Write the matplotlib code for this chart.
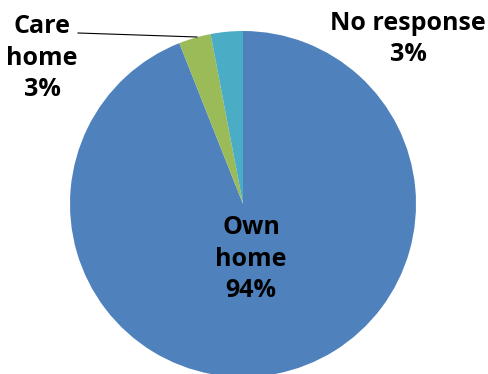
import matplotlib.pyplot as plt

labels = ["Own\nhome", "Care\nhome", "No response"]
shares = [94, 3, 3]
colors = ["#4F81BD", "#9BBB59", "#4BACC6"]

W, H = 489, 374
fig = plt.figure(figsize=(W / 100, H / 100), dpi=100)
ax = fig.add_axes([0, 0, 1, 1])

cx, cy, r = 243, H - 204, 173
ax.pie(shares, colors=colors, startangle=90, counterclock=False,
       center=(cx, cy), radius=r, frame=True,
       wedgeprops=dict(linewidth=0))
ax.set_xlim(0, W)
ax.set_ylim(0, H)
ax.set_aspect("equal")
ax.axis("off")

font = dict(family="Open Sans", fontweight="bold", fontsize=18,
            color="black", ha="center", va="center", linespacing=1.32)
ax.text(251, H - 259, f"{labels[0]}\n{shares[0]}%", **font)
ax.text(42, H - 58, f"{labels[1]}\n{shares[1]}%", **font)
ax.text(408, H - 39, f"{labels[2]}\n{shares[2]}%", **font)

# leader line for the small care home slice
ax.plot([78, 197], [H - 33, H - 37], color="black", linewidth=0.8)

fig.savefig("out.png", dpi=100)
